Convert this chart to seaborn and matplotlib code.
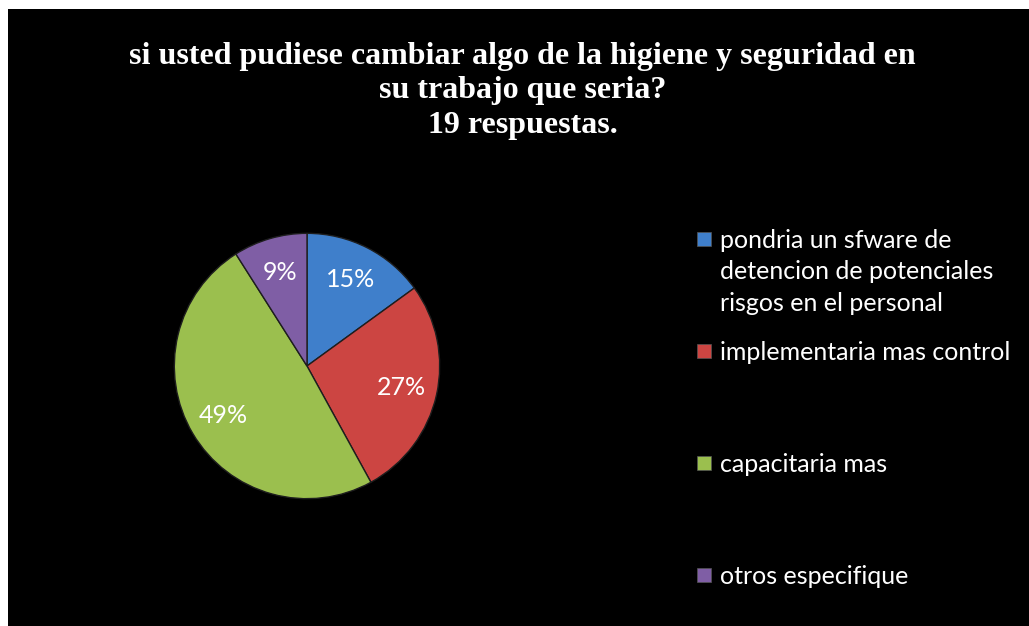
import matplotlib
matplotlib.use("Agg")
import matplotlib.pyplot as plt
from matplotlib.patches import Rectangle
import seaborn as sns

# %% Data
categories = [
    "pondria un sfware de\ndetencion de potenciales\nrisgos en el personal",
    "implementaria mas control",
    "capacitaria mas",
    "otros especifique",
]
shares = [15, 27, 49, 9]
colors = ["#3F7FCB", "#CC4542", "#9BBF4E", "#7F5EA5"]
title = ("si usted pudiese cambiar algo de la higiene y seguridad en\n"
         "su trabajo que seria?\n19 respuestas.")

# %% Style
sns.set_style("dark")
plt.rcParams["font.family"] = ["Lato", "DejaVu Sans"]
palette = sns.color_palette(colors)

W, H = 1029, 626
fig = plt.figure(figsize=(W / 100, H / 100), dpi=100, facecolor="white")

# black chart area (white margin on left and top)
fig.patches.append(Rectangle((8 / W, 0), 1 - 8 / W, 1 - 9 / H,
                             transform=fig.transFigure, facecolor="black",
                             edgecolor="none", zorder=-5))

# %% Pie
cx, cy, r = 307, 366, 134
ax = fig.add_axes([(cx - r) / W, (H - cy - r) / H, 2 * r / W, 2 * r / H])
ax.set_facecolor("none")
ax.set_zorder(2)
wedges, _, autotexts = ax.pie(
    shares, colors=palette, startangle=90, counterclock=False,
    autopct="%d%%", pctdistance=0.73, radius=1,
    wedgeprops=dict(edgecolor="#1e1e1e", linewidth=1),
    textprops=dict(color="white", fontsize=18),
)
ax.set_xlim(-1.01, 1.01)
ax.set_ylim(-1.01, 1.01)
ax.set_axis_off()

# %% Title
fig.text(0.508, 0.855, title, ha="center", va="center", color="white",
         fontsize=23, fontweight="bold", family="Liberation Serif",
         linespacing=1.25)

# %% Legend (entries at even spacing, marker next to first line)
x_mark, x_text, y0, step = 697, 720, 238.5, 112
for i, (lab, col) in enumerate(zip(categories, palette)):
    y = y0 + i * step
    fig.patches.append(Rectangle((x_mark / W, (H - y - 7) / H), 14 / W, 14 / H,
                                 transform=fig.transFigure, facecolor=col,
                                 edgecolor="#555555", linewidth=0.5, zorder=2))
    fig.text(x_text / W, (H - y + 10) / H, lab, ha="left", va="top",
             color="white", fontsize=18, linespacing=1.45)

fig.savefig("out.png", dpi=100, facecolor="white")
